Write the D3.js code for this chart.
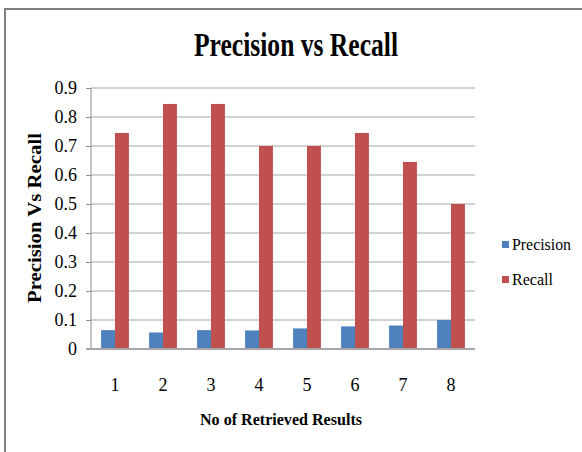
<!DOCTYPE html>
<html><head><meta charset="utf-8">
<script src="https://cdn.jsdelivr.net/npm/d3@7"></script>
<style>body{margin:0;background:#fff}svg{display:block}</style>
</head><body>
<svg id="c" width="582" height="452"></svg>
<script>
const categories = ["1","2","3","4","5","6","7","8"];
const precision = [0.065,0.057,0.065,0.064,0.071,0.078,0.081,0.1];
const recall = [0.745,0.845,0.845,0.7,0.7,0.745,0.645,0.5];
const seriesNames = ["Precision","Recall"];
const colors = ["#4F81BD","#C0504D"];
const yTicks = [0,0.1,0.2,0.3,0.4,0.5,0.6,0.7,0.8,0.9];

const svg = d3.select("#c");
const font = "'Liberation Serif','Times New Roman',serif";
// frame
svg.append("rect").attr("x",5).attr("y",9).attr("width",640).attr("height",520)
  .attr("fill","none").attr("stroke","#808080").attr("stroke-width",2);

const L=91,R=475,T=88,B=349;
const x = d3.scaleBand().domain(categories).range([L,R]).paddingInner(0.42).paddingOuter(0.21);
const y = d3.scaleLinear().domain([0,0.9]).range([B,T]);

// gridlines
svg.append("g").selectAll("line").data(yTicks).join("line")
  .attr("x1",L).attr("x2",R).attr("y1",d=>y(d)).attr("y2",d=>y(d))
  .attr("stroke","#a6a6a6").attr("stroke-width",1.2);

// y axis
const ya = svg.append("g").attr("transform",`translate(${L},0)`)
  .call(d3.axisLeft(y).tickValues(yTicks).tickSize(5).tickPadding(9).tickFormat(d=>d===0?"0":d3.format(".1f")(d)));
ya.select(".domain").attr("stroke","#8c8c8c").attr("d",`M0,${T}V${B}`);
ya.selectAll(".tick line").attr("stroke","#8c8c8c");
ya.selectAll("text").attr("font-family",font).attr("font-size",18).attr("fill","#000");

// bars
const sub = d3.scaleBand().domain(seriesNames).range([0,x.bandwidth()]);
const data = categories.map((c,i)=>({c,vals:[precision[i],recall[i]]}));
const g = svg.append("g").selectAll("g").data(data).join("g").attr("transform",d=>`translate(${x(d.c)},0)`);
g.selectAll("rect").data(d=>d.vals.map((v,k)=>({v,k}))).join("rect")
  .attr("x",d=>sub(seriesNames[d.k])).attr("width",sub.bandwidth())
  .attr("y",d=>y(d.v)).attr("height",d=>B-y(d.v)).attr("fill",d=>colors[d.k]);

// baseline
svg.append("line").attr("x1",L-5).attr("x2",R).attr("y1",B).attr("y2",B).attr("stroke","#a6a6a6").attr("stroke-width",2);

// x labels
svg.append("g").selectAll("text").data(categories).join("text")
  .attr("x",d=>x(d)+x.bandwidth()/2).attr("y",391).attr("text-anchor","middle")
  .attr("font-family",font).attr("font-size",18).text(d=>d);

// title
svg.append("text").attr("x",296).attr("y",56).attr("text-anchor","middle")
  .attr("font-family",font).attr("font-weight","bold").attr("font-size",34)
  .attr("textLength",204).attr("lengthAdjust","spacingAndGlyphs").text("Precision vs Recall");

// axis titles
svg.append("text").attr("x",281).attr("y",425).attr("text-anchor","middle")
  .attr("font-family",font).attr("font-weight","bold").attr("font-size",17)
  .attr("textLength",162).attr("lengthAdjust","spacingAndGlyphs").text("No of Retrieved Results");
svg.append("text").attr("transform","translate(41,218) rotate(-90)").attr("text-anchor","middle")
  .attr("font-family",font).attr("font-weight","bold").attr("font-size",18)
  .attr("textLength",170).attr("lengthAdjust","spacingAndGlyphs").text("Precision Vs Recall");

// legend
const lg = svg.append("g").selectAll("g").data(seriesNames).join("g")
  .attr("transform",(d,i)=>`translate(502,${241+i*35})`);
lg.append("rect").attr("width",7).attr("height",7).attr("fill",(d,i)=>colors[i]);
lg.append("text").attr("x",10).attr("y",9).attr("font-family",font).attr("font-size",17)
  .attr("textLength",(d,i)=>i===0?59:41).attr("lengthAdjust","spacingAndGlyphs").text(d=>d);
</script>
</body></html>
